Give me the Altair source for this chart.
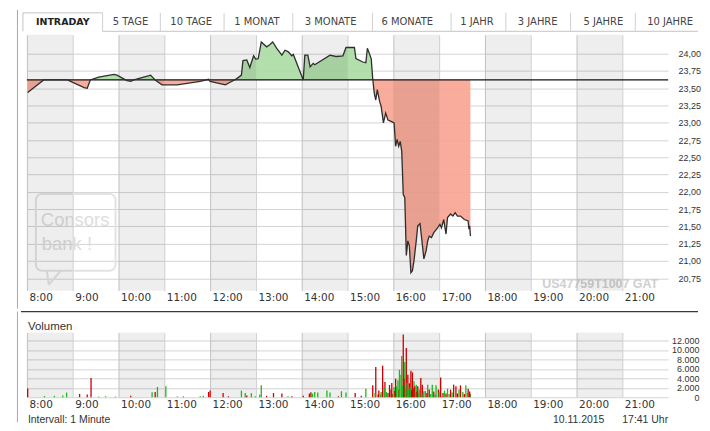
import altair as alt
import pandas as pd

# ---------------- data ----------------
PRICE_TIMES = ["08:01","08:22","08:53","09:15","09:19","09:23","09:34","09:54","09:58","10:11",
               "10:16","10:20","10:42","10:48","10:57","11:17","11:47","11:58","12:00","12:20",
               "12:25","12:35","12:41","12:43","12:48","12:52","12:57","13:00","13:03","13:07",
               "13:14","13:18","13:22","13:27","13:34","13:38","13:42","13:47","13:49","14:02",
               "14:04","14:08","14:11","14:15","14:17","14:37","14:45","14:54","14:58","15:09",
               "15:11","15:20","15:24","15:26","15:31","15:33","15:35","15:37","15:39","15:42",
               "15:44","15:47","15:50","15:53","15:57","16:01","16:03","16:05","16:07","16:09",
               "16:11","16:13","16:15","16:17","16:19","16:21","16:23","16:25","16:27","16:30",
               "16:32","16:35","16:37","16:40","16:43","16:45","16:47","16:50","16:53","16:58",
               "17:01","17:03","17:06","17:09","17:11","17:15","17:18","17:21","17:24","17:28",
               "17:33","17:38","17:39","17:40","17:41"]
PRICE_VALUES = [23.44,23.62,23.62,23.51,23.50,23.62,23.66,23.70,23.69,23.61,
                23.60,23.62,23.69,23.62,23.55,23.55,23.60,23.63,23.60,23.55,
                23.58,23.64,23.69,23.90,23.91,23.80,23.97,23.92,23.93,24.17,
                24.10,24.13,24.17,24.08,23.98,24.05,24.03,23.97,23.99,23.62,
                23.98,23.98,23.81,23.86,23.84,23.98,23.96,23.97,24.09,24.09,
                23.93,23.88,23.87,24.08,23.93,23.64,23.43,23.33,23.48,23.31,
                23.24,23.00,23.14,23.04,23.02,23.00,22.66,22.76,22.66,22.73,
                22.59,21.96,21.92,21.08,21.29,21.22,20.83,20.86,21.00,21.29,
                21.51,21.54,21.34,21.03,21.15,21.29,21.36,21.34,21.41,21.48,
                21.53,21.48,21.60,21.39,21.63,21.68,21.65,21.70,21.65,21.65,
                21.60,21.58,21.46,21.51,21.36]
PREV_CLOSE = 23.62

VOL_TIMES = ["08:01","08:23","08:36","08:47","08:52","09:09","09:19","09:24","09:34","09:43",
             "09:56","10:16","10:44","10:48","10:51","11:02","11:17","11:25","11:47","11:51",
             "11:58","12:00","12:17","12:24","12:41","12:46","12:48","12:54","12:59","13:05",
             "13:07","13:14","13:23","13:34","13:42","13:47","14:02","14:10","14:12","14:14",
             "14:17","14:21","14:33","14:37","14:48","14:52","14:58","15:10","15:18","15:24",
             "15:33","15:37","15:40","15:44","15:46","15:49","15:53","15:57","15:59","16:03",
             "16:04","16:07","16:10","16:11","16:13","16:15","16:17","16:19","16:21","16:23",
             "16:25","16:27","16:30","16:32","16:34","16:36","16:38","16:40","16:45","16:47",
             "16:51","16:56","16:59","17:02","17:07","17:11","17:15","17:19","17:22","17:26",
             "17:28","17:31","17:35","17:38","17:41",
             "15:36","15:41","15:43","15:48","15:51","15:55","15:58","16:01","16:02","16:06",
             "16:08","16:12","16:14","16:16","16:18","16:20","16:22","16:24","16:26","16:28",
             "16:29","16:31","16:33","16:39","16:42","16:44","16:49","16:53","16:55","17:00",
             "17:05","17:09","17:13","17:17","17:24","17:33","17:37","17:40"]
VOL_VALUES = [1830,250,300,350,980,700,560,4070,150,200,
              150,300,1050,1100,2190,2330,150,150,200,300,
              1100,1400,900,200,1400,900,350,840,200,560,
              2530,300,900,770,200,200,300,770,1050,770,
              1120,980,1400,980,200,1260,980,900,300,1820,
              2530,6390,560,1120,6670,3220,900,1610,700,3920,
              2310,1610,4760,8700,13270,7430,10400,4760,2950,5600,
              5250,3360,2660,2310,1610,4060,2660,1260,2660,1610,
              2660,2520,1610,4200,1400,1820,1610,2660,2310,1610,
              2520,1120,2520,1820,700,
              900,1400,600,2000,1100,2600,3000,2100,1300,3600,
              5800,2400,3900,1800,3000,1700,2200,1500,1900,2300,
              1000,1200,900,800,1300,900,700,1200,600,1100,
              900,800,700,1000,800,700,900,1200]
VOL_SIDE = ["r","g","g","g","g","r","r","r","g","g",
            "g","r","g","r","g","g","g","r","g","g",
            "r","r","r","r","g","g","r","g","g","g",
            "g","r","r","r","g","r","r","r","r","g",
            "g","g","g","g","r","g","g","r","r","g",
            "r","r","r","g","r","r","r","r","g","r",
            "g","r","g","g","r","g","r","r","r","r",
            "r","g","g","r","g","r","r","g","g","r",
            "g","g","r","r","g","g","r","r","r","g",
            "r","g","g","r","g",
            "g","r","g","g","g","r","r","g","r","g",
            "g","g","r","g","g","g","g","r","r","r",
            "g","r","g","g","g","r","g","r","g","g",
            "r","r","g","g","r","r","g","r"]

HOUR_TICKS = [8, 9, 10, 11, 12, 13, 14, 15, 16, 17, 18, 19, 20, 21]
SHADED_HOURS = [8, 10, 12, 14, 16, 18, 20]
PRICE_TICKS = [20.75, 21.0, 21.25, 21.5, 21.75, 22.0, 22.25, 22.5, 22.75, 23.0, 23.25, 23.5, 23.75, 24.0]
VOL_TICKS = [0, 2000, 4000, 6000, 8000, 10000, 12000]
TAB_LABELS = ["INTRADAY", "5 TAGE", "10 TAGE", "1 MONAT", "3 MONATE", "6 MONATE",
              "1 JAHR", "3 JAHRE", "5 JAHRE", "10 JAHRE"]


def to_h(s):
    hh, mm = s.split(":")
    return int(hh) + int(mm) / 60.0


# ---------------- frames ----------------
ph = [to_h(t) for t in PRICE_TIMES]
price_df = pd.DataFrame({"h": ph, "p": PRICE_VALUES})

fill_rows = []
for i in range(len(ph)):
    if i > 0:
        p0, p1 = PRICE_VALUES[i - 1], PRICE_VALUES[i]
        if (p0 - PREV_CLOSE) * (p1 - PREV_CLOSE) < 0:
            f = (PREV_CLOSE - p0) / (p1 - p0)
            fill_rows.append((ph[i - 1] + f * (ph[i] - ph[i - 1]), PREV_CLOSE))
    fill_rows.append((ph[i], PRICE_VALUES[i]))
fill_df = pd.DataFrame(fill_rows, columns=["h", "p"])
fill_df["up"] = fill_df["p"].clip(lower=PREV_CLOSE)
fill_df["dn"] = fill_df["p"].clip(upper=PREV_CLOSE)
fill_df["base"] = PREV_CLOSE

band_df = pd.DataFrame({"b": SHADED_HOURS, "b2": [b + 1 for b in SHADED_HOURS]})
base_df = pd.DataFrame({"base": [PREV_CLOSE]})
vol_df = pd.DataFrame({"h": [to_h(t) for t in VOL_TIMES], "v": VOL_VALUES, "s": VOL_SIDE})

W, H1, H2 = 644, 257, 65
XS = alt.Scale(domain=[8, 22], nice=False, zero=False)
YS = alt.Scale(domain=[20.57, 24.274], nice=False, zero=False)
VS = alt.Scale(domain=[0, 13700], nice=False, zero=False)

ONE = alt.Data(values=[{"a": 1}])
TXT = "#333333"


def label(text, x, y, size, font="DejaVu Sans", color=TXT, weight="normal", align="left", baseline="middle"):
    return alt.Chart(ONE).mark_text(text=text, fontSize=size, font=font, color=color,
                                    fontWeight=weight, align=align, baseline=baseline).encode(
        x=alt.value(x), y=alt.value(y))


def seg(x1, y1, x2, y2, color, w=1.0):
    return alt.Chart(ONE).mark_rule(color=color, strokeWidth=w).encode(
        x=alt.value(x1), y=alt.value(y1), x2=alt.value(x2), y2=alt.value(y2))


X_AXIS = alt.Axis(values=HOUR_TICKS, labelExpr="datum.value + ':00'", labelAlign="left",
                  labelOffset=2, labelPadding=2, ticks=False, tickSize=0, domain=False,
                  grid=True, gridColor="#d0d0d0", labelFont="DejaVu Sans", labelFontSize=10.5,
                  labelColor=TXT, title=None, labelOverlap=False, labelFlush=False,
                  labelBaseline="top")

PRICE_Y_AXIS = alt.Axis(orient="right", values=PRICE_TICKS,
                        labelExpr="replace(format(datum.value, '.2f'), '.', ',')",
                        labelAlign="left", labelPadding=10, ticks=False, tickSize=0, domain=False,
                        grid=True, gridColor="#d4d4d4", labelFont="Liberation Sans", labelFontSize=9,
                        labelColor=TXT, title=None, labelBaseline="middle")

VOL_Y_AXIS = alt.Axis(orient="right", values=VOL_TICKS,
                      labelExpr="replace(format(datum.value, ','), ',', '.')",
                      labelAlign="right", labelPadding=31, ticks=False, tickSize=0, domain=False,
                      grid=True, gridColor="#d4d4d4", labelFont="Liberation Sans", labelFontSize=9,
                      labelColor=TXT, title=None, labelBaseline="middle")

# ---------------- top (price) panel ----------------
green = alt.Chart(fill_df).mark_area(color="#ABDCA5", opacity=0.92).encode(
    x=alt.X("h:Q", scale=XS, axis=X_AXIS),
    y=alt.Y("up:Q", scale=YS, axis=PRICE_Y_AXIS),
    y2="base:Q")
red = alt.Chart(fill_df).mark_area(color="#F9A592", opacity=0.92).encode(
    x=alt.X("h:Q", scale=XS, axis=X_AXIS),
    y=alt.Y("dn:Q", scale=YS, axis=PRICE_Y_AXIS),
    y2="base:Q")

bands_top = alt.Chart(band_df).mark_rect(color="black", opacity=0.065).encode(
    x=alt.X("b:Q", scale=XS, axis=X_AXIS), x2="b2:Q",
    y=alt.value(0), y2=alt.value(H1))

base_rule = alt.Chart(base_df).mark_rule(color="#111111", strokeWidth=1.3).encode(
    y=alt.Y("base:Q", scale=YS, axis=PRICE_Y_AXIS), x=alt.value(0), x2=alt.value(W))

line = alt.Chart(price_df).mark_line(color="#2e2e2e", strokeWidth=1.3).encode(
    x=alt.X("h:Q", scale=XS, axis=X_AXIS),
    y=alt.Y("p:Q", scale=YS, axis=PRICE_Y_AXIS))

# watermark
WM = "#e3e3e3"
wm = [
    alt.Chart(ONE).mark_rect(filled=False, stroke=WM, strokeWidth=2, cornerRadius=6).encode(
        x=alt.value(9), x2=alt.value(89), y=alt.value(160), y2=alt.value(237)),
    seg(20, 237, 22, 251, WM, 2),
    seg(22, 251, 34, 237, WM, 2),
    label("Consors", 14, 186, 18.5, font="Liberation Sans", color="#dddddd"),
    label("bank !", 15, 210, 18.5, font="Liberation Sans", color="#dddddd"),
    label("US47759T1007  GAT", 634, 250, 12.5, font="Liberation Sans", color="#cfcfcf",
          weight="bold", align="right"),
]

# tab row (header chrome)
TAB_CENTERS = [36, 104, 165, 231, 305, 382, 452, 513, 579, 646]
TAB_SEPS = [76, 134, 198, 267, 347, 426, 481, 546, 611]
chrome = [seg(-9.5, -25, -9.5, 275, "#a8a8a8", 1),
          seg(-4, -22, 76, -22, "#c4c4c4", 1),
          seg(-4, -22, -4, -3.5, "#c4c4c4", 1),
          seg(76, -3.5, 674, -3.5, "#c4c4c4", 1)]
for sx in TAB_SEPS:
    chrome.append(seg(sx, -22, sx, -3.5, "#d0d0d0", 1))
for i, (t, cx) in enumerate(zip(TAB_LABELS, TAB_CENTERS)):
    if i == 0:
        chrome.append(label(t, cx, -12.5, 9.5, weight="bold", align="center", color="#222"))
    else:
        chrome.append(label(t, cx, -12.5, 10, align="center", color="#444"))

top = alt.layer(green, red, *wm, bands_top, base_rule, line, *chrome).properties(width=W, height=H1)

# ---------------- bottom (volume) panel ----------------
bands_bot = alt.Chart(band_df).mark_rect(color="black", opacity=0.065).encode(
    x=alt.X("b:Q", scale=XS, axis=X_AXIS), x2="b2:Q",
    y=alt.value(0), y2=alt.value(H2))

bars = alt.Chart(vol_df).mark_rule(strokeWidth=1.3).encode(
    x=alt.X("h:Q", scale=XS, axis=X_AXIS),
    y=alt.Y("v:Q", scale=VS, axis=VOL_Y_AXIS),
    y2=alt.datum(0),
    color=alt.Color("s:N", scale=alt.Scale(domain=["r", "g"], range=["#cc0000", "#1cb81c"]), legend=None))

bot_chrome = [
    seg(-6, -21, 674, -21, "#3a3a3a", 1.3),
    seg(-9.5, -21, -9.5, 90, "#a8a8a8", 1),
    label("Volumen", 1, -3, 11.5, font="Liberation Sans", baseline="alphabetic"),
    label("Intervall: 1 Minute", 1, 91, 10.5, font="Liberation Sans", baseline="alphabetic"),
    label("10.11.2015", 580, 91, 10.5, font="Liberation Sans", align="right", baseline="alphabetic"),
    label("17:41 Uhr", 644, 91, 10.5, font="Liberation Sans", align="right", baseline="alphabetic"),
]

bottom = alt.layer(bands_bot, bars, *bot_chrome).properties(width=W, height=H2)

chart = alt.vconcat(top, bottom, spacing=0).properties(
    padding={"left": 8, "top": 0, "right": 0, "bottom": 0}
).configure_view(stroke="transparent")

chart.save("out.html", embed_options={"renderer": "svg", "actions": False})
